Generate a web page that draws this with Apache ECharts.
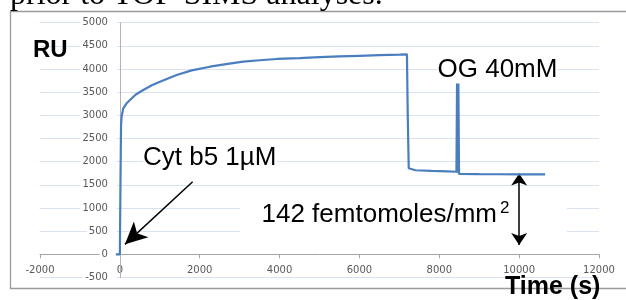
<!DOCTYPE html>
<html>
<head>
<meta charset="utf-8">
<script src="https://cdn.jsdelivr.net/npm/echarts@6/dist/echarts.min.js"></script>
<style>
  html, body { margin: 0; padding: 0; background: #fff; }
  #chart { width: 626px; height: 300px; }
</style>
</head>
<body>
<div id="chart"></div>
<script>
// sensorgram
const timeS = [-100, 0, 15, 30, 45, 85, 170, 253, 400, 586, 800, 1004, 1422, 1800, 2256, 2700, 3090, 3500, 3926, 4500, 5000, 5500, 6000, 6500, 7000, 7190, 7210, 7235, 7400, 7800, 8200, 8430, 8445, 8462, 8478, 8495, 9000, 9500, 10000, 10650]
const ruValues = [0, 0, 1500, 2800, 2980, 3150, 3260, 3330, 3450, 3547, 3650, 3727, 3871, 3970, 4050, 4110, 4158, 4190, 4217, 4235, 4255, 4272, 4285, 4298, 4310, 4318, 3000, 1857, 1815, 1800, 1792, 1783, 3690, 1760, 3690, 1735, 1731, 1729, 1727, 1725]

const xTicks = { min: -2000, max: 12000, step: 2000 }
const yTicks = { min: -500, max: 5000, step: 500 }

// annotation arrows in data units
const cytArrow = [[1823, 1567], [128, 216]]
const amountArrow = [[10000, 1745], [10000, 200]]

const labelFont = 'Liberation Sans'
const W = 626, H = 300
const gridBox = { left: 40, right: 27, top: 22.7, bottom: 22.5 }

// axes cross at zero (excel style): shift the whole axis, labels included
const plotW = W - gridBox.left - gridBox.right
const plotH = H - gridBox.top - gridBox.bottom
const yAxisShift = -(0 - xTicks.min) / (xTicks.max - xTicks.min) * plotW
const xAxisShift = -(0 - yTicks.min) / (yTicks.max - yTicks.min) * plotH

let chart = echarts.init(document.getElementById('chart'))

const points = timeS.map((t, i) => [t, ruValues[i]])

chart.setOption({
  animation: false,
  grid: gridBox,
  xAxis: {
    type: 'value',
    position: 'bottom',
    offset: xAxisShift,
    z: 1,
    min: xTicks.min,
    max: xTicks.max,
    interval: xTicks.step,
    axisLine: {
      onZero: false,
      lineStyle: { color: '#a6a6a6', width: 1 },
    },
    axisTick: {
      show: true,
      length: 4,
      lineStyle: { color: '#a6a6a6' },
    },
    axisLabel: {
      margin: 11,
      color: '#595959',
      fontFamily: 'DejaVu Sans',
      fontSize: 10,
      formatter: (v) => String(v),
    },
    splitLine: { show: false },
  },
  yAxis: [
    {
      // labels + axis line, sits above the gridlines
      type: 'value',
      position: 'left',
      offset: yAxisShift,
      z: 2,
      min: yTicks.min,
      max: yTicks.max,
      interval: yTicks.step,
      axisLine: {
        show: true,
        onZero: false,
        lineStyle: { color: '#b3b3b3', width: 1 },
      },
      axisTick: { show: false },
      axisLabel: {
        margin: 3,
        color: '#595959',
        fontFamily: 'DejaVu Sans',
        fontSize: 10,
        backgroundColor: '#fff',
        padding: [1, 9, 1, 2],
        formatter: (v) => String(v),
      },
      splitLine: { show: false },
    },
    {
      // gridlines only
      type: 'value',
      position: 'right',
      z: 0,
      min: yTicks.min,
      max: yTicks.max,
      interval: yTicks.step,
      axisLine: { show: false },
      axisTick: { show: false },
      axisLabel: { show: false },
      splitLine: {
        show: true,
        lineStyle: { color: '#d9e2f1', width: 1 },
      },
    },
  ],
  series: [
    {
      name: 'RU',
      type: 'line',
      data: points,
      showSymbol: false,
      symbol: 'none',
      smooth: false,
      z: 5,
      lineStyle: { color: '#4a7ebf', width: 2.2 },
    },
    {
      name: 'arrows',
      type: 'line',
      data: [],
      z: 6,
      markLine: {
        silent: true,
        animation: false,
        label: { show: false },
        lineStyle: { color: '#000', type: 'solid', width: 1.5 },
        data: [
          [
            { coord: cytArrow[0], symbol: 'none' },
            { coord: cytArrow[1], symbol: 'arrow', symbolSize: [16, 22] },
          ],
          [
            { coord: amountArrow[0], symbol: 'arrow', symbolSize: [12, 12] },
            { coord: amountArrow[1], symbol: 'arrow', symbolSize: [12, 12] },
          ],
        ],
      },
    },
  ],
  graphic: [
    {
      type: 'rect',
      z: -10,
      silent: true,
      shape: { x: 10.5, y: 11.5, width: 700, height: 277 },
      style: { fill: 'none', stroke: '#9a9a9a', lineWidth: 1.3 },
    },
    {
      type: 'text',
      silent: true,
      x: 10,
      y: -4,
      style: {
        text: 'prior to TOF-SIMS analyses.',
        font: '32px "Liberation Serif"',
        fill: '#000',
        verticalAlign: 'middle',
      },
    },
    {
      type: 'text',
      silent: true,
      z: 10,
      x: 33,
      y: 50,
      style: {
        text: 'RU',
        font: 'bold 24px "' + labelFont + '"',
        fill: '#000',
        verticalAlign: 'middle',
      },
    },
    {
      type: 'text',
      silent: true,
      z: 3,
      x: 143,
      y: 157.5,
      style: {
        text: 'Cyt b5 1µM',
        font: '26px "' + labelFont + '"',
        fill: '#000',
        verticalAlign: 'middle',
        backgroundColor: '#fff',
      },
    },
    {
      type: 'text',
      silent: true,
      z: 3,
      x: 437.5,
      y: 70,
      style: {
        text: 'OG 40mM',
        font: '26px "' + labelFont + '"',
        fill: '#000',
        verticalAlign: 'middle',
        backgroundColor: '#fff',
      },
    },
    {
      type: 'rect',
      silent: true,
      z: 2,
      shape: { x: 240, y: 194, width: 327, height: 47 },
      style: { fill: '#fff' },
    },
    {
      type: 'text',
      silent: true,
      z: 3,
      x: 261.5,
      y: 215,
      style: {
        text: '142 femtomoles/mm',
        font: '26px "' + labelFont + '"',
        fill: '#000',
        verticalAlign: 'middle',
      },
    },
    {
      type: 'text',
      silent: true,
      z: 3,
      x: 500,
      y: 208,
      style: {
        text: '2',
        font: '17px "' + labelFont + '"',
        fill: '#000',
        verticalAlign: 'middle',
      },
    },
    {
      type: 'text',
      silent: true,
      z: 10,
      x: 505,
      y: 287,
      style: {
        text: 'Time (s)',
        font: 'bold 25px "' + labelFont + '"',
        fill: '#000',
        verticalAlign: 'middle',
      },
    },
  ],
})
</script>
</body>
</html>
